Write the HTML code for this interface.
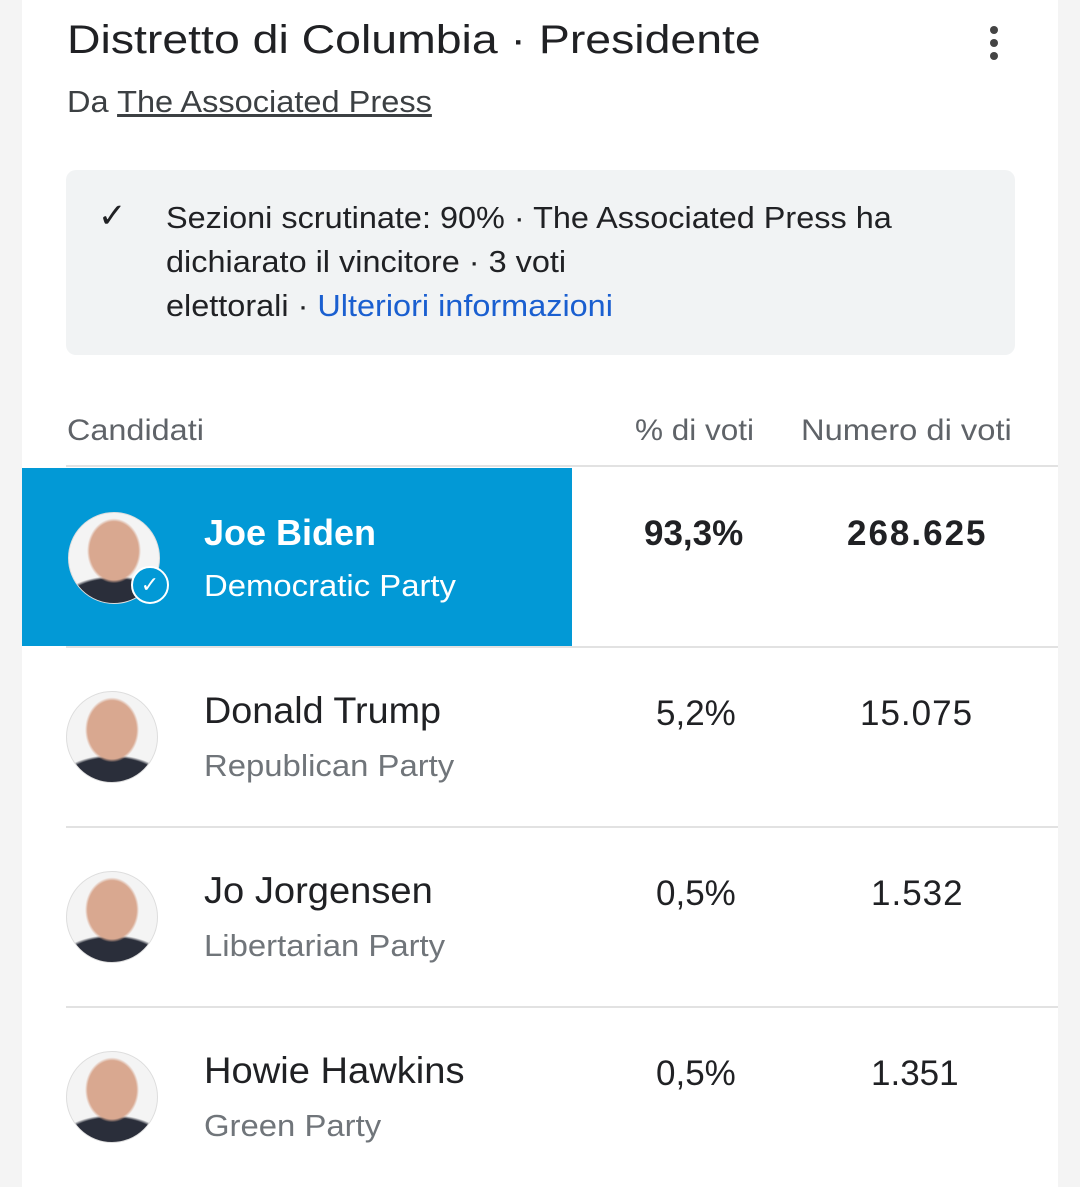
<!DOCTYPE html>
<html><head><meta charset="utf-8"><style>
body{margin:0;width:1080px;height:1187px;background:#f4f4f4;font-family:"Liberation Sans",Roboto,sans-serif;position:relative;overflow:hidden}
.card{position:absolute;left:22px;top:0;width:1036px;height:1187px;background:#fff}
.a{position:absolute;white-space:nowrap;transform-origin:left top}
.av{position:absolute;width:90px;height:90px;border-radius:50%;border:1px solid #ddd;background:radial-gradient(ellipse 30% 36% at 50% 42%,#d9a890 0 90%,transparent 100%),radial-gradient(ellipse 60% 30% at 50% 100%,#2a2e3a 0 90%,transparent 100%),#f4f4f4;overflow:hidden}
.line{position:absolute;left:66px;right:22px;height:2px;background:#e2e2e2}
.sx{transform:scaleX(1.06)}
</style></head><body>
<div class="card"></div>
<div class="a" style="left:67px;top:18px;font-size:40px;color:#202124;transform:scaleX(1.16)">Distretto di Columbia · Presidente</div>
<div class="a" style="left:990px;top:26px;width:8px"><div style="width:8px;height:8px;border-radius:50%;background:#444;margin-bottom:5px"></div><div style="width:8px;height:8px;border-radius:50%;background:#444;margin-bottom:5px"></div><div style="width:8px;height:8px;border-radius:50%;background:#444"></div></div>
<div class="a" style="left:67px;top:84px;font-size:31px;color:#3c4043;transform:scaleX(1.05)">Da <span style="text-decoration:underline">The Associated Press</span></div>
<div class="a" style="left:66px;top:170px;width:949px;height:185px;background:#f1f3f4;border-radius:10px"></div>
<div class="a" style="left:98px;top:196px;font-size:34px;color:#202124">✓</div>
<div class="a" style="left:166px;top:196px;font-size:31px;line-height:44px;color:#202124;transform:scaleX(1.046)">Sezioni scrutinate: 90% · The Associated Press ha<br>dichiarato il vincitore · 3 voti<br>elettorali · <span style="color:#1a5fd0">Ulteriori informazioni</span></div>
<div class="a" style="left:67px;top:414px;font-size:30px;color:#5f6368;transform:scaleX(1.08)">Candidati</div>
<div class="a" style="left:635px;top:414px;font-size:30px;color:#5f6368;transform:scaleX(1.05)">% di voti</div>
<div class="a" style="left:801px;top:414px;font-size:30px;color:#5f6368;transform:scaleX(1.09)">Numero di voti</div>
<div class="line" style="top:465px"></div>
<div class="a" style="left:22px;top:468px;width:550px;height:178px;background:#0299d6"></div>
<div class="av" style="left:68px;top:512px"></div>
<div class="a" style="left:131px;top:566px;width:34px;height:34px;border-radius:50%;border:2px solid #fff;background:#0299d6;color:#fff;font-size:22px;text-align:center;line-height:34px">✓</div>
<div class="a" style="left:204px;top:512px;font-size:36px;font-weight:bold;color:#fff">Joe Biden</div>
<div class="a sx" style="left:204px;top:568px;font-size:31px;color:#fff">Democratic Party</div>
<div class="a" style="left:644px;top:514px;font-size:35px;font-weight:bold;color:#202124">93,3%</div>
<div class="a" style="left:847px;top:514px;font-size:35px;font-weight:bold;color:#202124;letter-spacing:2px">268.625</div>
<div class="line" style="top:646px"></div>
<div class="av" style="left:66px;top:691px"></div>
<div class="a" style="left:204px;top:690px;font-size:37px;color:#202124;transform:scaleX(1.02)">Donald Trump</div>
<div class="a sx" style="left:204px;top:748px;font-size:31px;color:#70757a">Republican Party</div>
<div class="a" style="left:656px;top:694px;font-size:35px;color:#202124">5,2%</div>
<div class="a" style="left:860px;top:694px;font-size:35px;color:#202124;letter-spacing:1px">15.075</div>
<div class="line" style="top:826px"></div>
<div class="av" style="left:66px;top:871px"></div>
<div class="a" style="left:204px;top:870px;font-size:37px;color:#202124;transform:scaleX(1.03)">Jo Jorgensen</div>
<div class="a sx" style="left:204px;top:928px;font-size:31px;color:#70757a">Libertarian Party</div>
<div class="a" style="left:656px;top:874px;font-size:35px;color:#202124">0,5%</div>
<div class="a" style="left:871px;top:874px;font-size:35px;color:#202124;letter-spacing:1px">1.532</div>
<div class="line" style="top:1006px"></div>
<div class="av" style="left:66px;top:1051px"></div>
<div class="a" style="left:204px;top:1050px;font-size:37px;color:#202124;transform:scaleX(1.03)">Howie Hawkins</div>
<div class="a sx" style="left:204px;top:1108px;font-size:31px;color:#70757a">Green Party</div>
<div class="a" style="left:656px;top:1054px;font-size:35px;color:#202124">0,5%</div>
<div class="a" style="left:871px;top:1054px;font-size:35px;color:#202124">1.351</div>
</body></html>
